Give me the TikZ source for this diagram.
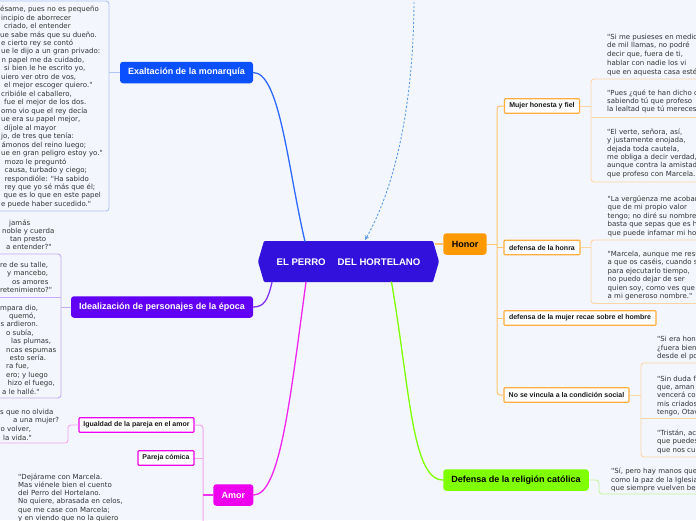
\documentclass[tikz,border=0pt]{standalone}
\usepackage{fontspec}
\setmainfont{Liberation Sans}
\newfontfamily\qfont{DejaVu Sans}
\usetikzlibrary{arrows.meta,calc}
\definecolor{bgc}{HTML}{F3F6FD}
\definecolor{rootc}{HTML}{3311DD}
\definecolor{exc}{HTML}{0A50FF}
\definecolor{idc}{HTML}{6100F5}
\definecolor{amc}{HTML}{EE00EE}
\definecolor{rec}{HTML}{80FF00}
\definecolor{hoc}{HTML}{FF9900}
\definecolor{hoborder}{HTML}{FFAE3D}
\definecolor{holine}{HTML}{FFC670}
\definecolor{holeaf}{HTML}{FDD6A2}
\definecolor{exleaf}{HTML}{AFC3F5}
\definecolor{idleaf}{HTML}{C6AAF7}
\definecolor{amleaf}{HTML}{F4A6F4}
\definecolor{releaf}{HTML}{C4F59C}
\definecolor{dashc}{HTML}{5A9AE6}
\definecolor{qtext}{HTML}{333333}
\newcommand\qlines[5]{\foreach \qd/\qt [count=\qn] in {#5} {\node[quote] (#1\qn) at ({#2+\qd},{#3+2.3+(\qn-1)*#4}) {\qt};}}
\tikzset{
  mainbox/.style={rounded corners=3pt, inner sep=0pt, minimum height=21.5pt, font=\bfseries\fontsize{9}{11}\selectfont},
  subbox/.style={draw, fill=white, line width=1.1pt, inner sep=0pt, minimum height=14.5pt, font=\bfseries\fontsize{7}{8}\selectfont, text=black!90, rounded corners=0.8pt},
  quote/.style={inner sep=0pt, anchor=base west, font=\qfont\fontsize{7}{8.5}\selectfont, text=qtext},
  conn/.style={line width=1.3pt, line cap=round},
  leafline/.style={line width=0.9pt, rounded corners=3pt},
}
\begin{document}
\begin{tikzpicture}[x=1pt,y=-1pt]
\fill[bgc] (0,0) rectangle (696,520);
\useasboundingbox (0,0) rectangle (696,520);
\clip (0,0) rectangle (696,520);

% root
\fill[rootc, rounded corners=1pt] (258,261.5) -- (264,241) -- (433,241) -- (439,261.5) -- (433,282) -- (264,282) -- cycle;
\node[font=\bfseries\fontsize{9.6}{11}\selectfont, text=white, inner sep=0pt] (root) at (348.5,262) {EL PERRO\hspace{12pt}DEL HORTELANO};
\coordinate (rootNA) at (305,241.5);
\coordinate (rootND) at (365,240);
\coordinate (rootSA) at (272,282);
\coordinate (rootSB) at (306,282);
\coordinate (rootSC) at (391.5,282);
\coordinate (rootE) at (434.5,244);
\coordinate (dashTop) at (414,-2);

% main branches
\node[mainbox, fill=exc, text=white, minimum width=133pt] (exalt) at (186.5,72.5) {Exaltación de la monarquía};
\node[mainbox, fill=idc, text=white, minimum width=182pt] (ideal) at (162,307) {Idealización de personajes de la época};
\node[mainbox, fill=amc, text=white, minimum width=40pt] (amor) at (233.3,495) {Amor};
\node[mainbox, fill=rec, text=black, minimum width=145.5pt] (defensa) at (516,480) {Defensa de la religión católica};
\node[mainbox, fill=hoc, text=black, minimum width=43.3pt] (honor) at (465,244) {Honor};

\draw[conn, draw=exc!85] (exalt.east) .. controls (280,72.5) and (288,170) .. (rootNA);
\draw[conn, draw=idc!80] (rootSA) .. controls (268,300) and (264,307) .. (ideal.east);
\draw[conn, draw=amc!85] (rootSB) .. controls (290,400) and (280,495) .. (amor.east);
\draw[conn, draw=rec] (rootSC) .. controls (410,390) and (412,480) .. (defensa.west);
\draw[line width=1.1pt, draw=holine] (rootE) -- (honor.west);
\draw[line width=0.9pt, draw=dashc, dash pattern=on 2.2pt off 1.8pt, -{Stealth[length=4.5pt,width=4pt]}] (dashTop) .. controls (414,80) and (402,175) .. (rootND);

% Honor subtree
\node[subbox, draw=hoborder, minimum width=75pt] (mujer) at (542,106) {Mujer honesta y fiel};
\node[subbox, draw=hoborder, minimum width=76pt] (honra) at (542,247.5) {defensa de la honra};
\node[subbox, draw=hoborder, minimum width=152pt] (mhombre) at (580,318) {defensa de la mujer recae sobre el hombre};
\node[subbox, draw=hoborder, minimum width=125pt] (nosev) at (566.5,395) {No se vincula a la condición social};
\draw[line width=1pt, draw=holine] (honor.east) -- (497,244);
\draw[line width=1pt, draw=holine, rounded corners=3pt] (mujer.west) -| (497,395) -- (nosev.west);
\draw[line width=1pt, draw=holine] (honra.west) -- (497,247.5);
\draw[line width=1pt, draw=holine] (mhombre.west) -- (497,318);

\draw[leafline, draw=holeaf] (mujer.east) -- (591,106);
\draw[leafline, draw=holeaf] (700,79) -- (591,79) -- (591,182) -- (700,182);
\draw[leafline, draw=holeaf] (591,117) -- (700,117);
\draw[leafline, draw=holeaf] (honra.east) -- (591,247.5);
\draw[leafline, draw=holeaf] (700,240) -- (591,240) -- (591,303.5) -- (700,303.5);
\draw[leafline, draw=holeaf] (nosev.east) -- (641,395);
\draw[leafline, draw=holeaf] (700,363) -- (641,363) -- (641,457) -- (700,457);
\draw[leafline, draw=holeaf] (641,418.5) -- (700,418.5);

\qlines{mja}{607}{36.7}{8.8}{0/{"Si me pusieses en medio}, 0/{de mil llamas, no podré}, 0/{decir que, fuera de ti,}, 0/{hablar con nadie los vi}, 0/{que en aquesta casa esté}}
\qlines{mjb}{607}{92.7}{8.3}{0/{"Pues ¿qué te han dicho de}, 0/{sabiendo tú que profeso}, 0/{la lealtad que tú mereces}}
\qlines{mjc}{607}{132}{8.4}{0/{"El verte, señora, así,}, 0/{y justamente enojada,}, 0/{dejada toda cautela,}, 0/{me obliga a decir verdad,}, 0/{aunque contra la amistad}, 0/{que profeso con Marcela.}}
\qlines{dha}{607.5}{199.3}{8.35}{0/{"La vergüenza me acobarda}, 0/{que de mi propio valor}, 0/{tengo; no diré su nombre}, 0/{basta que sepas que es hombre}, 0/{que puede infamar mi honra}}
\qlines{dhb}{607.5}{254}{8.5}{0/{"Marcela, aunque me resuelvo}, 0/{a que os caséis, cuando sea}, 0/{para ejecutarlo tiempo,}, 0/{no puedo dejar de ser}, 0/{quien soy, como ves que}, 0/{a mi generoso nombre."}}
\qlines{nsa}{657}{339.3}{8.4}{0/{"Si era hon}, 0/{¿fuera bien}, 0/{desde el po}}
\qlines{nsb}{657}{378.7}{8.35}{0/{"Sin duda f}, 0/{que, aman}, 0/{vencerá co}, 0/{mis criados}, 0/{tengo, Otav}}
\qlines{nsc}{657}{433.3}{8.35}{0/{"Tristán, ac}, 0/{que puedes}, 0/{que nos cu}}

% Religion leaf
\draw[leafline, draw=releaf] (defensa.east) -- (599,480) -- (599,494) -- (700,494);
\qlines{rel}{611}{471.5}{8.3}{0/{"Sí, pero hay manos que}, 0/{como la paz de la Iglesia}, 0/{que siempre vuelven bes}}

% Exaltacion leaf
\draw[leafline, draw=exleaf] (exalt.west) -- (109,72.5);
\draw[leafline, draw=exleaf] (-5,1) -- (109,1) -- (109,211) -- (-5,211);
\qlines{ex}{0}{9.3}{8.47}{0/{ésame, pues no es pequeño}, 1/{incipio de aborrecer}, 4/{criado, el entender}, 0/{ue sabe más que su dueño.}, 1/{e cierto rey se contó}, 1/{ue le dijo a un gran privado:}, 1.5/{n papel me da cuidado,}, 4/{si bien le he escrito yo,}, 1/{uiero ver otro de vos,}, 4/{el mejor escoger quiero."}, 1/{cribióle el caballero,}, 4/{fue el mejor de los dos.}, 1/{omo vio que el rey decía}, 1/{ue era su papel mejor,}, 4/{díjole al mayor}, 1/{jo, de tres que tenía:}, 1.5/{ámonos del reino luego;}, 1/{ue en gran peligro estoy yo."}, 4.5/{mozo le preguntó}, 4.5/{causa, turbado y ciego;}, 4.5/{respondióle: "Ha sabido}, 4.5/{rey que yo sé más que él;}, 3.5/{que es lo que en este papel}, 1/{e puede haber sucedido."}}

% Idealizacion leaves
\draw[leafline, draw=idleaf] (ideal.west) -- (61,307);
\draw[leafline, draw=idleaf] (-5,254) -- (61,254) -- (61,398) -- (-5,398);
\draw[leafline, draw=idleaf] (61,297) -- (-5,297);
\qlines{ida}{0}{222.7}{8.3}{9/{jamás}, 2/{noble y cuerda}, 10/{tan presto}, 6/{a entender?"}}
\qlines{idb}{0}{265}{8.4}{0/{re de su talle,}, 7/{y mancebo,}, 12/{os amores}, 0/{retenimiento?"}}
\qlines{idc}{0}{307.7}{8.4}{0/{mpara dio,}, 9/{quemó,}, 0.5/{s ardieron.}, 6/{o subía,}, 11/{las plumas,}, 6/{ncas espumas}, 9.5/{esto sería.}, 6/{ra fue,}, 6/{ero; y luego}, 7.5/{hizo el fuego,}, 2/{a le hallé."}}

% Amor subtree
\node[subbox, draw=amc, minimum width=115pt] (igual) at (136.5,425) {Igualdad de la pareja en el amor};
\node[subbox, draw=amc, minimum width=56pt] (pareja) at (166,458) {Pareja cómica};
\draw[line width=1pt, draw=amleaf, rounded corners=3pt] (igual.east) -| (203,530);
\draw[line width=1pt, draw=amleaf] (pareja.east) -- (203,458);
\draw[line width=1.2pt, draw=amc!80] (amor.west) -- (203,495);
\draw[leafline, draw=amleaf] (igual.west) -- (68,425) -- (68,443) -- (-5,443);
\qlines{iga}{0}{411.7}{8.7}{0/{s que no olvida}, 13/{a una mujer?}, 0.5/{o volver,}, 3/{la vida."}}
\qlines{pca}{18}{476.7}{8.3}{0/{"Dejárame con Marcela.}, 0/{Mas viénele bien el cuento}, 0/{del Perro del Hortelano.}, 0/{No quiere, abrasada en celos,}, 0/{que me case con Marcela;}, 0/{y en viendo que no la quiero}}
\end{tikzpicture}
\end{document}
